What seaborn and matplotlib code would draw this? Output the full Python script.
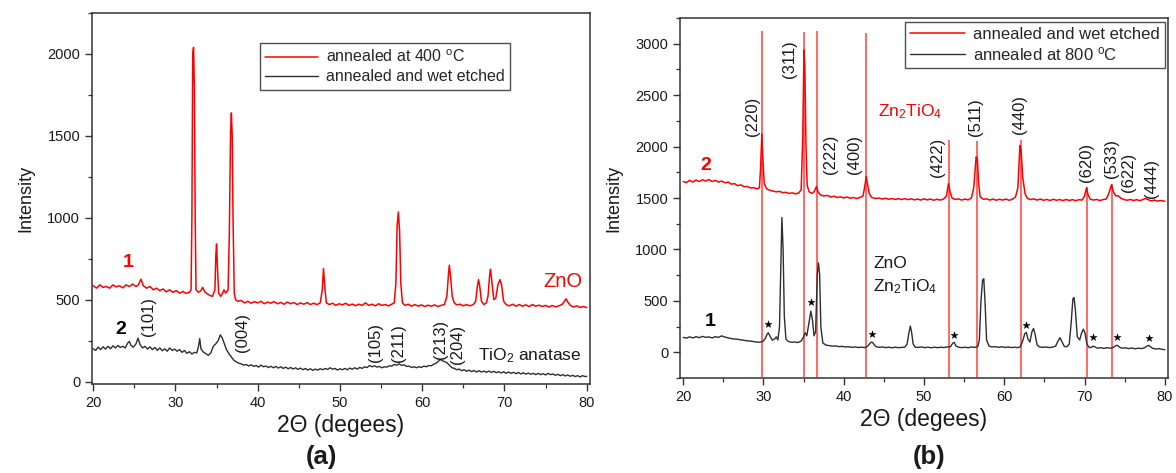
import numpy as np
import pandas as pd
import matplotlib
matplotlib.use("Agg")
import matplotlib.pyplot as plt
import seaborn as sns

# ---------------- DATA ----------------
# Panel (a) curve 1: annealed at 400 C (red)
a1_x = [20.0, 20.4, 20.8, 21.2, 21.6, 22.0, 22.4, 22.8, 23.2, 23.6, 24.0, 24.4, 24.8, 25.2, 25.5, 25.8, 26.1, 26.5, 26.9,
        27.3, 27.7, 28.1, 28.5, 28.9, 29.3, 29.7, 30.1, 30.5, 30.9, 31.3, 31.7, 31.9, 32.0, 32.1, 32.2, 32.3, 32.4, 32.5,
        32.8, 33.1, 33.3, 33.6, 33.9, 34.2, 34.5, 34.8, 34.9, 35.0, 35.1, 35.25, 35.5, 35.7, 35.9, 36.1, 36.4, 36.55,
        36.7, 36.8, 36.9, 37.0, 37.15, 37.3, 37.6, 38.0, 38.4, 38.8, 39.2, 39.6, 40.0, 40.4, 40.8, 41.2, 41.6, 42.0,
        42.4, 42.8, 43.2, 43.6, 44.0, 44.4, 44.8, 45.2, 45.6, 46.0, 46.4, 46.8, 47.2, 47.6, 47.85, 48.0, 48.15, 48.35,
        48.7, 49.1, 49.5, 49.9, 50.3, 50.7, 51.1, 51.5, 51.9, 52.3, 52.7, 53.1, 53.5, 53.9, 54.3, 54.7, 55.1, 55.5,
        55.9, 56.3, 56.6, 56.8, 56.95, 57.1, 57.25, 57.4, 57.6, 57.9, 58.3, 58.7, 59.1, 59.5, 59.9, 60.3, 60.7, 61.1,
        61.5, 61.9, 62.3, 62.7, 63.0, 63.2, 63.3, 63.45, 63.65, 63.9, 64.2, 64.6, 65.0, 65.4, 65.8, 66.2, 66.5, 66.7,
        66.85, 67.0, 67.2, 67.5, 67.8, 68.0, 68.2, 68.3, 68.45, 68.7, 68.95, 69.2, 69.45, 69.65, 69.9, 70.2, 70.6,
        71.0, 71.4, 71.8, 72.2, 72.6, 73.0, 73.4, 73.8, 74.2, 74.6, 75.0, 75.4, 75.8, 76.2, 76.6, 77.0, 77.3, 77.5,
        77.7, 78.0, 78.4, 78.8, 79.2, 79.6, 80.0]
a1_y = [585, 570, 590, 575, 580, 570, 590, 578, 585, 572, 590, 580, 595, 580, 590, 625, 585, 570, 580,
        560, 570, 555, 565, 548, 560, 545, 555, 540, 550, 538, 545, 560, 1000, 2000, 2040, 1800, 1000, 560,
        545, 555, 575, 545, 535, 525, 520, 560, 760, 840, 700, 540, 520, 535, 560, 540, 560, 900,
        1520, 1640, 1500, 1000, 540, 500, 490, 495, 480, 490, 478, 488, 480, 490, 475, 485, 478, 488,
        475, 483, 472, 485, 475, 482, 470, 480, 472, 482, 470, 478, 470, 480, 560, 690, 580, 480,
        470, 478, 465, 475, 468, 478, 465, 473, 463, 472, 465, 480, 465, 472, 462, 475, 465, 470,
        462, 472, 480, 600, 950, 1035, 920, 600, 480, 465, 472, 460, 470, 460, 468, 458, 466, 460,
        468, 458, 465, 470, 520, 660, 710, 640, 520, 480, 468, 472, 462, 470, 462, 470, 490, 580,
        622, 580, 490, 470, 480, 520, 650, 685, 620, 500, 510, 590, 622, 590, 490, 470, 462,
        472, 460, 470, 460, 468, 458, 470, 460, 466, 458, 465, 455, 464, 456, 462, 470, 490, 505,
        485, 465, 455, 462, 452, 458, 452]

# Panel (a) curve 2: annealed and wet etched (black)
a2_x = [20.0, 20.3, 20.6, 20.9, 21.2, 21.5, 21.8, 22.1, 22.4, 22.7, 23.0, 23.3, 23.6, 23.9, 24.2, 24.4, 24.6, 24.9,
        25.2, 25.45, 25.7, 26.0, 26.3, 26.6, 26.9, 27.2, 27.5, 27.8, 28.1, 28.4, 28.7, 29.0, 29.3, 29.6, 29.9, 30.2,
        30.5, 30.8, 31.1, 31.4, 31.7, 32.0, 32.3, 32.6, 32.8, 32.95, 33.1, 33.4, 33.7, 34.0, 34.3, 34.6, 34.9, 35.2,
        35.45, 35.7, 35.95, 36.2, 36.5, 36.8, 37.1, 37.4, 37.7, 38.0, 38.3, 38.6, 38.9, 39.2, 39.5, 39.8, 40.1, 40.4,
        40.7, 41.0, 41.3, 41.6, 41.9, 42.2, 42.5, 42.8, 43.1, 43.4, 43.7, 44.0, 44.3, 44.6, 44.9, 45.2, 45.5, 45.8,
        46.1, 46.4, 46.7, 47.0, 47.3, 47.6, 47.9, 48.2, 48.5, 48.8, 49.1, 49.4, 49.7, 50.0, 50.3, 50.6, 50.9, 51.2,
        51.5, 51.8, 52.1, 52.4, 52.7, 53.0, 53.3, 53.6, 53.9, 54.2, 54.5, 54.8, 55.1, 55.4, 55.7, 56.0, 56.3, 56.6,
        56.9, 57.2, 57.5, 57.8, 58.1, 58.4, 58.7, 59.0, 59.3, 59.6, 59.9, 60.2, 60.5, 60.8, 61.1, 61.4, 61.7, 62.0,
        62.2, 62.4, 62.7, 63.0, 63.3, 63.6, 63.9, 64.2, 64.5, 64.8, 65.1, 65.4, 65.7, 66.0, 66.3, 66.6, 66.9, 67.2,
        67.5, 67.8, 68.1, 68.4, 68.7, 69.0, 69.3, 69.6, 69.9, 70.2, 70.5, 70.8, 71.1, 71.4, 71.7, 72.0, 72.3, 72.6,
        72.9, 73.2, 73.5, 73.8, 74.1, 74.4, 74.7, 75.0, 75.3, 75.6, 75.9, 76.2, 76.5, 76.8, 77.1, 77.4, 77.7, 78.0,
        78.3, 78.6, 78.9, 79.2, 79.5, 79.8, 80.0]
a2_y = [200, 190, 210, 195, 212, 198, 215, 200, 218, 205, 220, 208, 215, 205, 235, 245, 220, 210,
        230, 265, 225, 205, 215, 198, 212, 195, 208, 190, 205, 188, 200, 185, 205, 190, 198, 185,
        195, 178, 190, 172, 182, 168, 178, 175, 215, 262, 200, 180, 170, 160, 175, 215, 230, 250,
        285, 265, 230, 195, 170, 150, 130, 120, 112, 108, 100, 104, 95, 102, 92, 98, 88, 100,
        90, 95, 85, 93, 84, 92, 82, 90, 80, 88, 78, 86, 76, 84, 74, 82, 72, 80,
        70, 78, 68, 76, 70, 78, 72, 80, 74, 84, 75, 80, 70, 78, 72, 80, 72, 82,
        75, 84, 76, 86, 80, 90, 85, 98, 90, 96, 88, 92, 84, 90, 88, 96, 94, 104,
        100, 108, 98, 102, 92, 94, 86, 90, 84, 90, 86, 94, 90, 98, 96, 106, 112, 125,
        135, 128, 122, 115, 100, 85, 80, 72, 76, 66, 72, 62, 70, 60, 68, 58, 66, 58,
        64, 56, 64, 56, 62, 54, 60, 52, 60, 50, 58, 50, 56, 48, 55, 46, 54, 45,
        52, 44, 50, 42, 50, 42, 48, 40, 50, 42, 46, 38, 44, 36, 42, 34, 40, 32,
        38, 30, 36, 28, 36, 30, 32]

# Panel (b) curve 2: annealed and wet etched (red)
b2_x = [20.0, 20.4, 20.8, 21.2, 21.6, 22.0, 22.4, 22.8, 23.2, 23.6, 24.0, 24.4, 24.8, 25.2, 25.6, 26.0, 26.4, 26.8,
        27.2, 27.6, 28.0, 28.4, 28.8, 29.2, 29.5, 29.65, 29.8, 29.95, 30.1, 30.4, 30.8, 31.2, 31.6, 32.0, 32.4, 32.8,
        33.2, 33.6, 34.0, 34.4, 34.7, 34.9, 35.05, 35.15, 35.3, 35.45, 35.7, 36.0, 36.3, 36.6, 36.8, 37.1, 37.5, 38.0,
        38.4, 38.8, 39.2, 39.6, 40.0, 40.4, 40.8, 41.2, 41.6, 42.0, 42.4, 42.6, 42.8, 42.95, 43.2, 43.5, 44.0, 44.4,
        44.8, 45.2, 45.6, 46.0, 46.4, 46.8, 47.2, 47.6, 48.0, 48.4, 48.8, 49.2, 49.6, 50.0, 50.4, 50.8, 51.2, 51.6,
        52.0, 52.4, 52.8, 53.05, 53.25, 53.5, 53.9, 54.3, 54.7, 55.1, 55.5, 55.9, 56.2, 56.5, 56.65, 56.8, 57.0,
        57.4, 57.8, 58.2, 58.6, 59.0, 59.4, 59.8, 60.2, 60.6, 61.0, 61.4, 61.7, 61.95, 62.1, 62.3, 62.6, 62.9, 63.3,
        63.7, 64.1, 64.5, 64.9, 65.3, 65.7, 66.1, 66.5, 66.9, 67.3, 67.7, 68.1, 68.5, 68.9, 69.3, 69.7, 70.0, 70.25,
        70.45, 70.7, 71.1, 71.5, 71.9, 72.3, 72.7, 73.0, 73.35, 73.6, 73.9, 74.2, 74.5, 74.9, 75.3, 75.7, 76.1,
        76.5, 76.9, 77.3, 77.6, 77.9, 78.3, 78.7, 79.1, 79.5, 80.0]
b2_y = [1660, 1650, 1672, 1655, 1675, 1660, 1678, 1665, 1680, 1660, 1672, 1655, 1665, 1648, 1655, 1635, 1640, 1620,
        1628, 1610, 1612, 1598, 1600, 1588, 1600, 1800, 2125, 1850, 1640, 1590, 1575, 1568, 1560, 1565, 1552, 1555,
        1545, 1550, 1540, 1550, 1580, 2100, 2940, 2800, 2000, 1620, 1560, 1545, 1560, 1612, 1560, 1530, 1520, 1525,
        1510, 1518, 1505, 1512, 1500, 1510, 1498, 1505, 1495, 1505, 1520, 1600, 1710, 1640, 1540, 1505, 1495, 1500,
        1490, 1498, 1488, 1495, 1486, 1494, 1485, 1494, 1484, 1492, 1482, 1490, 1480, 1492, 1482, 1490, 1478, 1488,
        1480, 1488, 1520, 1640, 1560, 1500, 1485, 1492, 1480, 1490, 1482, 1500, 1600, 1900, 1880, 1650, 1510,
        1488, 1492, 1480, 1490, 1478, 1488, 1480, 1490, 1478, 1488, 1510, 1600, 2010, 1960, 1700, 1540, 1495, 1485,
        1492, 1480, 1490, 1478, 1486, 1476, 1488, 1478, 1485, 1475, 1486, 1476, 1484, 1474, 1484, 1480, 1520, 1600,
        1530, 1490, 1480, 1486, 1476, 1484, 1490, 1540, 1628, 1560, 1520, 1522, 1500, 1485, 1478, 1486, 1476,
        1484, 1474, 1486, 1496, 1485, 1472, 1480, 1470, 1476, 1468]

# Panel (b) curve 1: annealed at 800 C (black)
b1_x = [20.0, 20.4, 20.8, 21.2, 21.6, 22.0, 22.4, 22.8, 23.2, 23.6, 24.0, 24.4, 24.8, 25.1, 25.5, 25.9, 26.3, 26.7,
        27.1, 27.5, 27.9, 28.3, 28.7, 29.1, 29.5, 29.9, 30.2, 30.45, 30.6, 30.8, 31.1, 31.4, 31.6, 31.8, 32.0, 32.15,
        32.3, 32.45, 32.6, 32.8, 33.1, 33.5, 33.9, 34.3, 34.7, 35.0, 35.2, 35.4, 35.7, 35.9, 36.1, 36.3, 36.5, 36.7,
        36.85, 37.0, 37.15, 37.4, 37.8, 38.2, 38.6, 39.0, 39.4, 39.8, 40.2, 40.6, 41.0, 41.4, 41.8, 42.2, 42.6, 43.0,
        43.3, 43.5, 43.7, 44.0, 44.4, 44.8, 45.2, 45.6, 46.0, 46.4, 46.8, 47.2, 47.6, 47.9, 48.1, 48.3, 48.45, 48.65,
        48.9, 49.3, 49.7, 50.1, 50.5, 50.9, 51.3, 51.7, 52.1, 52.5, 52.9, 53.3, 53.6, 53.75, 54.0, 54.3, 54.7, 55.1,
        55.5, 55.9, 56.3, 56.7, 56.9, 57.1, 57.3, 57.45, 57.6, 57.8, 58.1, 58.5, 58.9, 59.3, 59.7, 60.1, 60.5, 60.9,
        61.3, 61.7, 62.0, 62.3, 62.55, 62.75, 62.95, 63.2, 63.45, 63.65, 63.85, 64.1, 64.4, 64.8, 65.2, 65.6, 66.0,
        66.4, 66.7, 66.95, 67.2, 67.5, 67.8, 68.1, 68.35, 68.55, 68.7, 68.85, 69.1, 69.4, 69.6, 69.85, 70.05, 70.3,
        70.6, 70.9, 71.1, 71.3, 71.6, 72.0, 72.4, 72.8, 73.2, 73.6, 73.9, 74.1, 74.35, 74.7, 75.1, 75.5, 75.9, 76.3,
        76.7, 77.1, 77.5, 77.8, 78.0, 78.2, 78.5, 78.9, 79.3, 79.7, 80.0]
b1_y = [145, 138, 150, 140, 152, 142, 155, 145, 150, 140, 152, 145, 160, 150, 142, 135, 130, 128,
        122, 118, 112, 110, 105, 100, 98, 105, 130, 175, 190, 160, 118, 130, 150, 120, 250, 800,
        1310, 1000, 350, 130, 105, 98, 100, 95, 110, 150, 190, 160, 300, 400, 320, 160, 200, 750,
        870, 760, 250, 90, 70, 65, 60, 62, 55, 58, 52, 55, 48, 52, 47, 50, 45, 60,
        90, 100, 85, 55, 48, 52, 45, 50, 44, 50, 45, 48, 50, 80, 180, 255, 200, 80,
        50, 48, 52, 45, 50, 44, 50, 45, 50, 46, 52, 55, 90, 97, 60, 50, 45, 50,
        44, 52, 48, 55, 120, 500, 700, 715, 500, 120, 60, 52, 55, 48, 54, 47, 52, 46,
        50, 45, 55, 110, 180, 194, 130, 100, 200, 232, 170, 70, 52, 48, 52, 46, 50,
        60, 110, 142, 100, 55, 55, 80, 300, 520, 532, 420, 150, 120, 180, 225, 190, 80,
        45, 50, 60, 52, 40, 45, 38, 45, 40, 48, 65, 68, 50, 40, 44, 36, 42, 34,
        40, 36, 45, 62, 68, 55, 38, 32, 36, 28, 26]

# Zn2TiO4 reference lines (panel b): positions and top values
ref_pos = [29.8, 35.1, 36.7, 42.8, 53.1, 56.6, 62.1, 70.3, 73.4]
ref_top = [3125, 3115, 3125, 3105, 2060, 2055, 2065, 1610, 1640]

# Asterisks (Zn2TiO4 peaks in curve 1 of panel b)
star_x = [30.6, 35.9, 43.5, 53.75, 62.75, 71.1, 74.1, 78.0]
star_y = [275, 490, 180, 170, 262, 145, 145, 140]

# hkl labels
a_hkl = ["(101)", "(004)", "(105)", "(211)", "(213)", "(204)"]
a_hkl_x = [26.7, 38.2, 54.3, 57.1, 62.2, 64.3]
a_hkl_y = [398, 300, 237, 237, 256, 226]
b_hkl = ["(220)", "(311)", "(222)", "(400)", "(422)", "(511)", "(440)", "(620)", "(533)", "(622)", "(444)"]
b_hkl_x = [28.6, 33.3, 38.3, 41.4, 51.7, 56.4, 61.9, 70.2, 73.3, 75.5, 78.3]
b_hkl_y = [2290, 2852, 1926, 1926, 1892, 2290, 2310, 1846, 1885, 1749, 1691]

# ---------------- STYLE ----------------
sns.set_theme(style="ticks")
plt.rcParams["font.family"] = ["Liberation Sans", "DejaVu Sans"]
plt.rcParams["mathtext.fontset"] = "custom"
plt.rcParams["mathtext.rm"] = "Liberation Sans"
plt.rcParams["mathtext.it"] = "Liberation Sans:italic"

RED = "#ff0000"
LINE_RED = "#ff4040"
DARK = "#2e2e2e"
TXT = "#1a1a1a"

fig = plt.figure(figsize=(11.76, 4.73), dpi=100)
ax_a = fig.add_axes([0.0782, 0.1882, 0.4235, 0.7843])
ax_b = fig.add_axes([0.5782, 0.2008, 0.4150, 0.7611])


def style_axis(ax, ymajor, yminor):
    for s in ax.spines.values():
        s.set_color("#333333")
        s.set_linewidth(1.1)
    ax.set_xticks(np.arange(20, 81, 10))
    ax.set_xticks(np.arange(20, 81, 5), minor=True)
    ax.set_yticks(ymajor)
    ax.set_yticks(yminor, minor=True)
    ax.tick_params(axis="both", which="major", direction="out", length=5, width=1.0,
                   color="#333333", labelsize=10.5, labelcolor=TXT, top=False, right=False)
    ax.tick_params(axis="both", which="minor", direction="out", length=3, width=0.9,
                   color="#333333", top=False, right=False)
    ax.set_ylabel("Intensity", fontsize=13, color=TXT, labelpad=9)
    ax.set_xlabel("2\u0398 (degees)", fontsize=16.5, color=TXT, labelpad=3)


# ---------------- PANEL (a) ----------------
df_a1 = pd.DataFrame({"x": a1_x, "y": a1_y})
df_a2 = pd.DataFrame({"x": a2_x, "y": a2_y})
sns.lineplot(data=df_a1, x="x", y="y", ax=ax_a, color=RED, linewidth=1.1, sort=False,
             estimator=None, label="annealed at 400 $^{\\rm o}$C")
sns.lineplot(data=df_a2, x="x", y="y", ax=ax_a, color=DARK, linewidth=1.0, sort=False,
             estimator=None, label="annealed and wet etched")
ax_a.set_xlim(19.85, 80.4)
ax_a.set_ylim(-15, 2250)
style_axis(ax_a, np.arange(0, 2001, 500), np.arange(0, 2251, 250))

leg = ax_a.legend(loc="upper left", bbox_to_anchor=(0.337, 0.919), borderaxespad=0.0, fontsize=11.5,
                  frameon=True, fancybox=False, edgecolor="#222222", handlelength=3.3, handletextpad=0.5,
                  labelspacing=0.25, borderpad=0.35)
leg.get_frame().set_linewidth(1.0)

for t, x, y in zip(a_hkl, a_hkl_x, a_hkl_y):
    ax_a.text(x, y, t, rotation=90, ha="center", va="center", fontsize=12, color=TXT)
ax_a.text(24.3, 725, "1", color=RED, fontsize=14, fontweight="bold", ha="center", va="center")
ax_a.text(23.3, 317, "2", color="black", fontsize=14, fontweight="bold", ha="center", va="center")
ax_a.text(77.1, 612, "ZnO", color=RED, fontsize=14.5, ha="center", va="center")
ax_a.text(73.1, 158, "TiO$_2$ anatase", color=TXT, fontsize=12.5, ha="center", va="center")

# ---------------- PANEL (b) ----------------
ax_b.vlines(ref_pos, -240, ref_top, colors=LINE_RED, linewidth=1.1, zorder=1)
df_b2 = pd.DataFrame({"x": b2_x, "y": b2_y})
df_b1 = pd.DataFrame({"x": b1_x, "y": b1_y})
sns.lineplot(data=df_b2, x="x", y="y", ax=ax_b, color=RED, linewidth=1.1, sort=False,
             estimator=None, label="annealed and wet etched", zorder=2)
sns.lineplot(data=df_b1, x="x", y="y", ax=ax_b, color=DARK, linewidth=1.0, sort=False,
             estimator=None, label="annealed at 800 $^{\\rm o}$C", zorder=3)
sns.scatterplot(x=star_x, y=star_y, ax=ax_b, marker="*", s=28, color="black", edgecolor="black",
                linewidth=0.3, zorder=4, legend=False)
ax_b.set_xlim(19.6, 80.4)
ax_b.set_ylim(-240, 3240)
style_axis(ax_b, np.arange(0, 3001, 500), np.arange(-250, 3251, 250))

leg = ax_b.legend(loc="upper right", bbox_to_anchor=(0.994, 0.989), borderaxespad=0.0, fontsize=12,
                  frameon=True, fancybox=False, edgecolor="#222222", handlelength=3.3, handletextpad=0.5,
                  labelspacing=0.2, borderpad=0.3)
leg.get_frame().set_linewidth(1.0)

for t, x, y in zip(b_hkl, b_hkl_x, b_hkl_y):
    ax_b.text(x, y, t, rotation=90, ha="center", va="center", fontsize=12, color=TXT)
ax_b.text(48.3, 2336, "Zn$_2$TiO$_4$", color=RED, fontsize=12.5, ha="center", va="center")
ax_b.text(43.7, 868, "ZnO", color=TXT, fontsize=12.5, ha="left", va="center")
ax_b.text(43.7, 642, "Zn$_2$TiO$_4$", color=TXT, fontsize=12.5, ha="left", va="center")
ax_b.text(22.8, 1820, "2", color=RED, fontsize=14, fontweight="bold", ha="center", va="center")
ax_b.text(23.4, 303, "1", color="black", fontsize=14, fontweight="bold", ha="center", va="center")

# panel captions
fig.text(321 / 1176, 1 - 457 / 473, "(a)", fontsize=18.5, fontweight="bold", ha="center", va="center", color=TXT)
fig.text(929 / 1176, 1 - 457 / 473, "(b)", fontsize=18.5, fontweight="bold", ha="center", va="center", color=TXT)

fig.savefig("out.png", dpi=100)
